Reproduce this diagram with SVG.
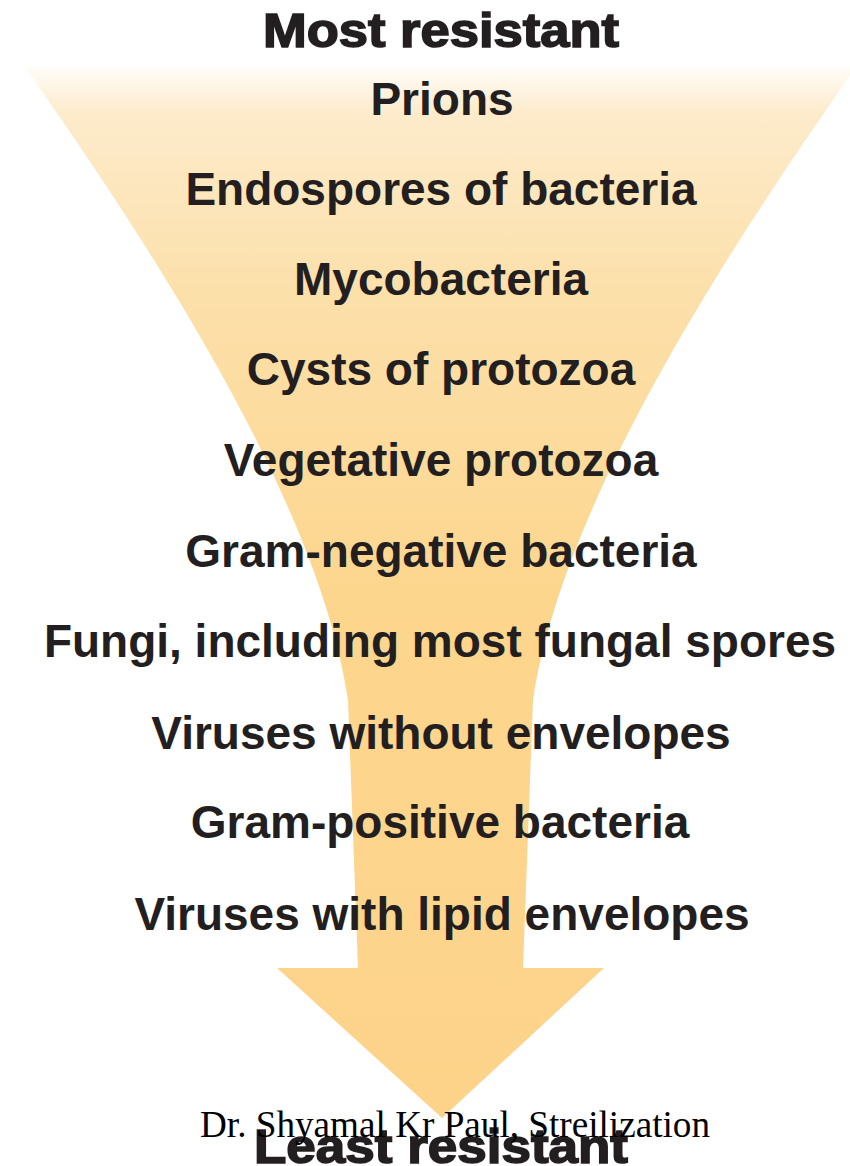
<svg xmlns="http://www.w3.org/2000/svg" width="850" height="1166" viewBox="0 0 850 1166">
  <defs>
    <linearGradient id="funnelGrad" gradientUnits="userSpaceOnUse" x1="0" y1="60" x2="0" y2="1120">
      <stop offset="0" stop-color="#FFFFFF"/>
      <stop offset="0.05" stop-color="#FDEBCB"/>
      <stop offset="0.22" stop-color="#FCE0AA"/>
      <stop offset="0.5" stop-color="#FDD68E"/>
      <stop offset="1" stop-color="#FDD38A"/>
    </linearGradient>
  </defs>
  <style>
    .item { font-family: "Liberation Sans", Arial, Helvetica, sans-serif; font-weight: bold; font-size: 46px; fill: #231F20; text-anchor: middle; }
    .title { font-family: "Liberation Sans", Arial, Helvetica, sans-serif; font-weight: bold; font-size: 48px; fill: #231F20; stroke: #231F20; stroke-width: 1.6; text-anchor: middle; }
    .credit { font-family: "Liberation Serif", "Times New Roman", serif; font-size: 37px; fill: #000000; }
  </style>
  <rect width="850" height="1166" fill="#FFFFFF"/>
  <g id="funnel">
    <path d="M 25 67 L 856 67 C 730 247 563 500 533 700 L 523 968 L 604 968 L 442 1118 L 277 968 L 358 968 L 348 700 C 318 500 151 247 25 67 Z" fill="url(#funnelGrad)"/>
  </g>
  <g id="title-most">
    <text class="title" x="441" y="47" textLength="356" lengthAdjust="spacingAndGlyphs">Most resistant</text>
  </g>
  <g id="items">
    <text class="item" x="442" y="115">Prions</text>
    <text class="item" x="441" y="205">Endospores of bacteria</text>
    <text class="item" x="441" y="295">Mycobacteria</text>
    <text class="item" x="441" y="385">Cysts of protozoa</text>
    <text class="item" x="441" y="476">Vegetative protozoa</text>
    <text class="item" x="441" y="567">Gram-negative bacteria</text>
    <text class="item" x="440" y="657">Fungi, including most fungal spores</text>
    <text class="item" x="441" y="749">Viruses without envelopes</text>
    <text class="item" x="440" y="838">Gram-positive bacteria</text>
    <text class="item" x="442" y="930">Viruses with lipid envelopes</text>
  </g>
  <g id="title-least">
    <text class="title" x="441" y="1163" textLength="374" lengthAdjust="spacingAndGlyphs">Least resistant</text>
  </g>
  <g id="credit">
    <text class="credit" x="200" y="1137" textLength="510" lengthAdjust="spacingAndGlyphs">Dr. Shyamal Kr Paul, Streilization</text>
  </g>
</svg>
